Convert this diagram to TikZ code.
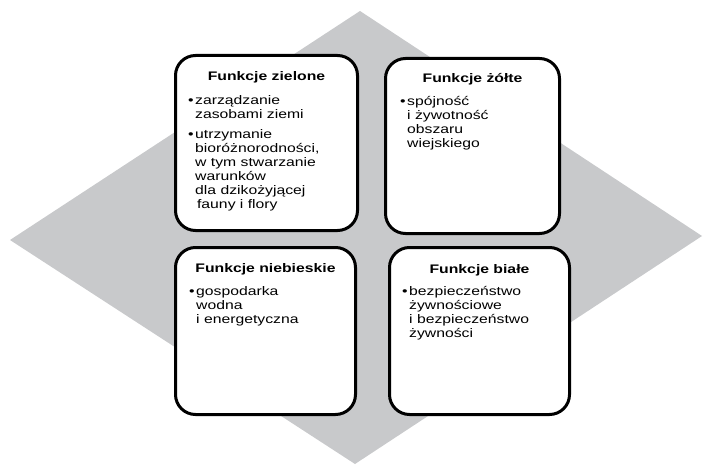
\documentclass[tikz,border=0pt]{standalone}
\usepackage{fontspec}
\setmainfont{Liberation Sans}
\definecolor{diamondgray}{RGB}{200,201,203}
\newcommand{\widen}[1]{\scalebox{1.27}[1]{#1}}
\newcommand{\itemlines}[1]{\widen{\begin{tabular}[t]{@{}l@{}}#1\end{tabular}}}
\newcommand{\bul}{\llap{\textbullet\hspace{1.2pt}}}

\begin{document}
\begin{tikzpicture}[x=1pt,y=-1pt,box/.style={draw,line width=3pt,rounded corners=20pt,fill=white,anchor=north west,inner sep=0pt},title/.style={font=\fontsize{12.4}{14}\selectfont\bfseries,inner sep=0pt,anchor=base},body/.style={font=\fontsize{12.4}{14}\selectfont,inner sep=0pt,anchor=base west}]
\useasboundingbox (0,0) rectangle (703,465);
\fill[diamondgray] (360,11) -- (702,236) -- (355,464) -- (10,240) -- cycle;
% four boxes
\node[box,minimum width=182pt,minimum height=175pt] (green) at (174,54) {};
\node[box,minimum width=174pt,minimum height=175pt] (yellow) at (384,57) {};
\node[box,minimum width=180pt,minimum height=167pt] (blue) at (174,246) {};
\node[box,minimum width=180pt,minimum height=167pt] (white) at (388,246) {};
% titles
\node[title] (greentitle) at ([yshift=-27pt]green.north) {\widen{Funkcje zielone}};
\node[title] (yellowtitle) at ([yshift=-26pt]yellow.north) {\widen{Funkcje żółte}};
\node[title] (bluetitle) at ([yshift=-26pt]blue.north) {\widen{Funkcje niebieskie}};
\node[title] (whitetitle) at ([yshift=-27pt]white.north) {\widen{Funkcje białe}};
% bullet texts
\node[body] (greentext) at ([xshift=21pt,yshift=-51pt]green.north west) {\itemlines{\bul zarządzanie\\ zasobami ziemi\\[6pt] \bul utrzymanie\\ bioróżnorodności,\\ w tym stwarzanie\\ warunków\\ dla dzikożyjącej\\ \hspace{1.5pt}fauny i flory}};
\node[body] (yellowtext) at ([xshift=23pt,yshift=-49pt]yellow.north west) {\itemlines{\bul spójność\\ i żywotność\\ obszaru\\ wiejskiego}};
\node[body] (bluetext) at ([xshift=22pt,yshift=-49pt]blue.north west) {\itemlines{\bul gospodarka\\ wodna\\ i energetyczna}};
\node[body] (whitetext) at ([xshift=21pt,yshift=-49pt]white.north west) {\itemlines{\bul bezpieczeństwo\\ żywnościowe\\ i bezpieczeństwo\\ żywności}};
\end{tikzpicture}
\end{document}
